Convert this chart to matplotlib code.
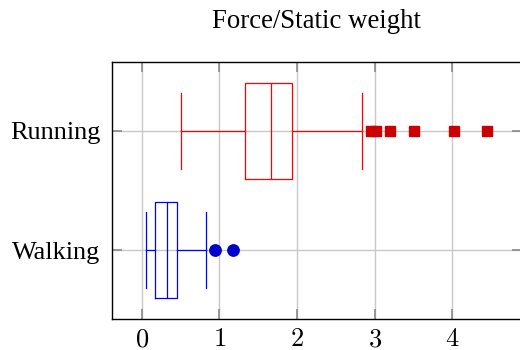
import matplotlib
matplotlib.use("Agg")
import matplotlib.pyplot as plt

categories = ["Walking", "Running"]
whislo = [0.05, 0.50]
q1 = [0.17, 1.33]
med = [0.32, 1.67]
q3 = [0.46, 1.94]
whishi = [0.83, 2.84]
fliers = [[0.95, 1.18], [2.95, 3.02, 3.20, 3.50, 4.02, 4.44]]
colors = ["#0000ff", "#ff0000"]
flier_fill = ["#0000cc", "#cc0000"]
flier_marker = ["o", "s"]
xticks = [0, 1, 2, 3, 4]

plt.rcParams['font.family'] = ['Liberation Serif', 'DejaVu Serif']
plt.rcParams['mathtext.fontset'] = 'cm'

fig = plt.figure(figsize=(5.2, 3.5), dpi=100)
ax = fig.add_axes([0.2148, 0.0877, 1.003 - 0.2148, 0.8237 - 0.0877])

for i, cat in enumerate(categories):
    stats = [dict(whislo=whislo[i], q1=q1[i], med=med[i], q3=q3[i],
                  whishi=whishi[i], fliers=fliers[i], label=cat)]
    c = colors[i]
    ax.bxp(stats, positions=[i + 1], widths=0.8, capwidths=0.633,
           orientation='horizontal', showfliers=True,
           boxprops=dict(color=c, lw=0.9),
           medianprops=dict(color=c, lw=0.9),
           whiskerprops=dict(color=c, lw=0.9),
           capprops=dict(color=c, lw=0.9),
           flierprops=dict(marker=flier_marker[i], markerfacecolor=flier_fill[i],
                           markeredgecolor=flier_fill[i], markersize=7.6 if flier_marker[i] == 's' else 8.2,
                           linestyle='none'),
           zorder=3)

ax.set_xlim(-0.386, 4.89)
ax.set_ylim(0.425, 2.575)
ax.set_yticks([1, 2])
ax.set_yticklabels(categories, fontsize=18.9)
ax.set_xticks(xticks)
ax.set_xticklabels([f"${v}$" for v in xticks], fontsize=19)
ax.grid(True, color='#c8c8c8', lw=1.0, zorder=0)
ax.set_axisbelow(True)
ax.tick_params(direction='in', length=7.5, width=1.2, color='#8a8a8a',
               top=True, right=True)
ax.tick_params(axis='y', pad=8)
ax.tick_params(axis='x', pad=7)
for s in ax.spines.values():
    s.set_color('black')
    s.set_linewidth(1.0)
ax.set_title("Force/Static weight", fontsize=19.3, pad=24)

fig.savefig("out.png", dpi=100)
